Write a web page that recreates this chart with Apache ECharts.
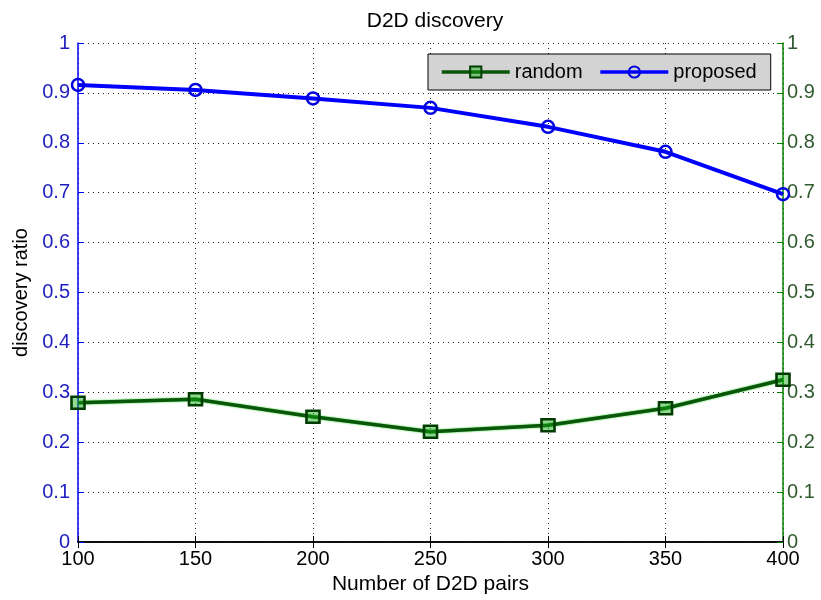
<!DOCTYPE html>
<html>
<head>
<meta charset="utf-8">
<title>D2D discovery</title>
<script src="https://cdn.jsdelivr.net/npm/echarts@6/dist/echarts.min.js"></script>
<style>
  html, body { margin: 0; padding: 0; background: #fff; }
  #chart { width: 821px; height: 600px; }
</style>
</head>
<body>
<div id="chart"></div>
<script>
// Number of D2D pairs
const pairs = [100, 150, 200, 250, 300, 350, 400];
// Discovery ratio per scheme
const randomRatio   = [0.279, 0.286, 0.251, 0.221, 0.234, 0.268, 0.325];
const proposedRatio = [0.916, 0.906, 0.889, 0.870, 0.832, 0.782, 0.697];
const seriesNames = ['random', 'proposed'];

const FONT = '"Liberation Sans", Arial, sans-serif';
const BLUE = '#0000ff';
const GREEN = '#008000';

const fmt = v => String(+(+v).toFixed(1));

const chart = echarts.init(document.getElementById('chart'));

const dotted = { show: true, lineStyle: { color: '#222', type: [1, 4], width: 1 } };

chart.setOption({
  animation: false,
  backgroundColor: '#fff',
  title: {
    text: 'D2D discovery',
    left: 430,
    top: 6,
    textAlign: 'center',
    textStyle: { fontFamily: FONT, fontSize: 21, fontWeight: 'normal', color: '#000' }
  },
  legend: {
    data: seriesNames,
    left: 428,
    top: 54,
    orient: 'horizontal',
    backgroundColor: '#d3d3d3',
    borderColor: '#000',
    borderWidth: 1,
    borderRadius: 0,
    padding: [8, 14, 8, 12],
    itemWidth: 68,
    itemHeight: 14,
    itemGap: 16,
    lineStyle: { width: 3.5 },
    textStyle: { fontFamily: FONT, fontSize: 20, color: '#000' }
  },
  grid: { left: 78, right: 38, top: 43, bottom: 58, containLabel: false },
  xAxis: [
    {
      type: 'value', position: 'bottom', min: 100, max: 400, interval: 50,
      name: 'Number of D2D pairs', nameLocation: 'middle', nameGap: 31,
      nameTextStyle: { fontFamily: FONT, fontSize: 21, color: '#000' },
      axisLine: { show: true, lineStyle: { color: '#000', width: 1.5 } },
      axisTick: { show: true, inside: true, length: 6, lineStyle: { color: '#000' } },
      axisLabel: { fontFamily: FONT, fontSize: 20, color: '#000', margin: 7 },
      splitLine: dotted
    },
    {
      type: 'value', position: 'top', min: 100, max: 400, interval: 50,
      axisLine: { show: true, lineStyle: { color: '#000', width: 1.5 } },
      axisTick: { show: true, inside: true, length: 6, lineStyle: { color: '#000' } },
      axisLabel: { show: false },
      splitLine: { show: false }
    }
  ],
  yAxis: [
    {
      type: 'value', position: 'left', min: 0, max: 1, interval: 0.1,
      name: 'discovery ratio', nameLocation: 'middle', nameGap: 47,
      nameTextStyle: { fontFamily: FONT, fontSize: 20, color: '#000' },
      axisLine: { show: true, lineStyle: { color: BLUE, width: 1.5 } },
      axisTick: { show: true, inside: true, length: 6, lineStyle: { color: BLUE } },
      axisLabel: { fontFamily: FONT, fontSize: 20, color: '#1e1ec0', margin: 8, formatter: fmt },
      splitLine: dotted
    },
    {
      type: 'value', position: 'right', min: 0, max: 1, interval: 0.1,
      axisLine: { show: true, lineStyle: { color: GREEN, width: 1.5 } },
      axisTick: { show: true, inside: true, length: 6, lineStyle: { color: GREEN } },
      axisLabel: { fontFamily: FONT, fontSize: 20, color: '#2f5a2f', margin: 4, formatter: fmt },
      splitLine: { show: false }
    }
  ],
  series: [
    {
      name: seriesNames[0],
      type: 'line',
      xAxisIndex: 0, yAxisIndex: 0,
      data: pairs.map((x, i) => [x, randomRatio[i]]),
      symbol: 'rect',
      symbolSize: [13, 12],
      lineStyle: { color: '#0a560a', width: 3.5, shadowColor: '#22cc22', shadowBlur: 2 },
      itemStyle: { color: 'rgba(20,170,20,0.45)', borderColor: '#003c00', borderWidth: 2.5 },
      z: 3
    },
    {
      name: seriesNames[1],
      type: 'line',
      xAxisIndex: 0, yAxisIndex: 0,
      data: pairs.map((x, i) => [x, proposedRatio[i]]),
      symbol: 'circle',
      symbolSize: 12,
      lineStyle: { color: BLUE, width: 4 },
      itemStyle: { color: 'rgba(0,0,0,0)', borderColor: '#0000e0', borderWidth: 2.5 },
      z: 4
    }
  ]
});
</script>
</body>
</html>
